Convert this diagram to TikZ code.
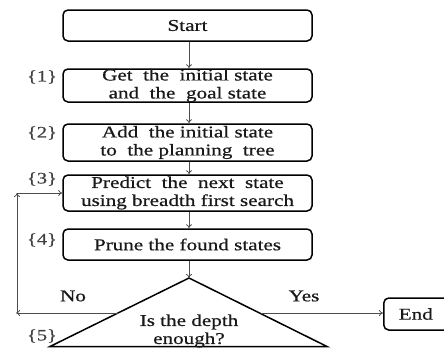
\documentclass[tikz,border=0pt]{standalone}
\usepackage{fontspec}
\setmainfont[FakeStretch=1.28,FakeBold=0.6]{Liberation Serif}
\usetikzlibrary{arrows.meta}
\begin{document}
\begin{tikzpicture}[x=1pt,y=-1pt,
  every node/.style={font=\fontsize{16.5}{18}\selectfont, text=black!90},
  stepbox/.style={draw=black, line width=1.5pt, rounded corners=5pt, minimum width=249pt, inner sep=0pt, align=center},
  arr/.style={draw=black!70, line width=0.8pt, -{To[length=4pt,width=6pt]}},
  numlab/.style={font=\fontsize{16}{18}\selectfont, text=black!75}]
\useasboundingbox (0,0) rectangle (444,349);
\node[stepbox, minimum height=31pt] (start) at (187.5,25.5) {Start};
\node[stepbox, minimum height=31pt] (b1) at (187.5,85.5) {Get~~the~~initial state\\and~~the~~goal state};
\node[stepbox, minimum height=37pt] (b2) at (187.5,142.5) {Add~~the initial state\\to~~the planning~~tree};
\node[stepbox, minimum height=36pt] (b3) at (187.5,193) {Predict~~the~~next~~state\\using breadth first search};
\node[stepbox, minimum height=31pt] (b4) at (187.5,244.5) {Prune the found states};
\coordinate (apex) at (189,278);
\coordinate (bl) at (50,346.5);
\coordinate (br) at (327,346.5);
\draw[line width=1.5pt, line join=miter] (apex) -- (bl) -- (br) -- cycle;
\node[align=center] (q) at (189,331) {Is the depth\\enough?};
\coordinate (tl) at (117.5,313);
\coordinate (tr) at (260.5,313);
\node[draw=black, line width=1.5pt, rounded corners=5pt, minimum width=80pt, minimum height=32pt, inner sep=0pt, anchor=west] (end) at (383,314) {\hspace*{-16pt}End};
\coordinate (cl) at (16,313);
\coordinate (cu) at (17,193);
\draw[arr] (start.south -| apex) -- (b1.north -| apex);
\draw[arr] (b1.south -| apex) -- (b2.north -| apex);
\draw[arr] (b2.south -| apex) -- (b3.north -| apex);
\draw[arr] (b3.south -| apex) -- (b4.north -| apex);
\draw[arr] (b4.south -| apex) -- (apex);
\draw[arr] (tr) -- (end.west |- tr);
\draw[arr] (tl) -- (cl);
\draw[arr] (cl -| cu) -- (cu);
\draw[arr] (cu) -- (b3.west);
\node (no) at (73,296) {No};
\node (yes) at (304,296) {Yes};
\node[numlab] (n1) at (42,77) {\{1\}};
\node[numlab] (n2) at (42,133) {\{2\}};
\node[numlab] (n3) at (42,179) {\{3\}};
\node[numlab] (n4) at (42,240) {\{4\}};
\node[numlab] (n5) at (42,336) {\{5\}};
\end{tikzpicture}
\end{document}
